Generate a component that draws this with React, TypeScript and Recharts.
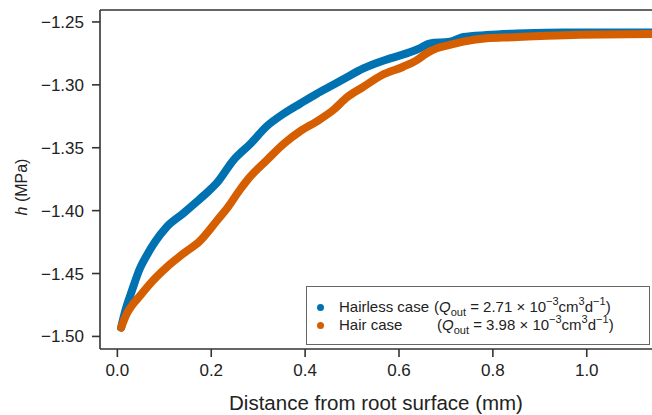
import React from 'react';
import { LineChart, Line, XAxis, YAxis, ReferenceLine } from 'recharts';

const hairlessX = [0.008, 0.017, 0.031, 0.048, 0.062, 0.080, 0.105, 0.141, 0.169, 0.190, 0.212, 0.247, 0.283, 0.318, 0.354, 0.389, 0.425, 0.460, 0.489, 0.524, 0.560, 0.581, 0.616, 0.644, 0.666, 0.708, 0.737, 0.787, 0.850, 0.915, 1.000, 1.139];
const hairlessH = [-1.493, -1.4795, -1.4636, -1.446, -1.436, -1.425, -1.413, -1.402, -1.393, -1.386, -1.378, -1.360, -1.347, -1.333, -1.323, -1.315, -1.307, -1.300, -1.294, -1.287, -1.2816, -1.279, -1.275, -1.271, -1.267, -1.2657, -1.262, -1.2604, -1.2592, -1.2585, -1.2584, -1.2584];

const hairX = [0.008, 0.020, 0.034, 0.050, 0.070, 0.105, 0.141, 0.176, 0.212, 0.236, 0.260, 0.283, 0.318, 0.354, 0.389, 0.425, 0.460, 0.489, 0.524, 0.564, 0.609, 0.638, 0.659, 0.680, 0.708, 0.737, 0.787, 0.843, 0.915, 0.985, 1.139];
const hairH = [-1.493, -1.482, -1.474, -1.467, -1.458, -1.445, -1.434, -1.424, -1.408, -1.397, -1.384, -1.373, -1.360, -1.347, -1.337, -1.329, -1.320, -1.310, -1.3016, -1.2922, -1.2856, -1.2803, -1.2749, -1.271, -1.2683, -1.2657, -1.263, -1.2622, -1.2609, -1.2601, -1.2596];

const xTicks = [0, 0.2, 0.4, 0.6, 0.8, 1.0];
const yTicks = [-1.5, -1.45, -1.4, -1.35, -1.3, -1.25];

const hairlessData = hairlessX.map((x, i) => ({ x, h: hairlessH[i] }));
const hairData = hairX.map((x, i) => ({ x, h: hairH[i] }));

const BLUE = '#0072B2';
const ORANGE = '#D55E00';
const FONT = '"Liberation Sans", Arial, Helvetica, sans-serif';

const YLabel = () => (
  <text
    transform="translate(21,187) rotate(-90)"
    textAnchor="middle"
    dominantBaseline="central"
    fontSize={16}
    fill="#222"
    fontFamily={FONT}
  >
    <tspan fontStyle="italic">h</tspan> (MPa)
  </text>
);

const sup: React.CSSProperties = { fontSize: 11, position: 'relative', top: -7, lineHeight: 0 };
const sub: React.CSSProperties = { fontSize: 11, position: 'relative', top: 4, lineHeight: 0 };

const Formula = ({ q }: { q: string }) => (
  <span>
    (<i>Q</i><span style={sub}>out</span> = {q} × 10<span style={sup}>−3</span>cm<span style={sup}>3</span>d<span style={sup}>−1</span>)
  </span>
);

const legendRows = [
  { name: 'Hairless case', q: '2.71', color: BLUE, fx: 127 },
  { name: 'Hair case', q: '3.98', color: ORANGE, fx: 130 },
];

export default function App() {
  return (
    <div style={{ position: 'absolute', left: 0, top: 0, width: 652, height: 415, fontFamily: FONT, background: '#fff' }}>
      <LineChart width={652} height={415} margin={{ top: 10, right: 0, bottom: 0, left: 0 }}>
        <XAxis
          type="number"
          dataKey="x"
          domain={[-0.037, 1.139]}
          allowDataOverflow
          ticks={xTicks}
          tickFormatter={(v: number) => v.toFixed(1)}
          height={66}
          tickSize={8}
          tickMargin={7}
          stroke="#333"
          strokeWidth={1.6}
          tick={{ fill: '#222', fontSize: 17, fontFamily: FONT }}
          label={{ value: 'Distance from root surface (mm)', position: 'insideBottom', offset: 5, fill: '#222', fontSize: 20.5, fontFamily: FONT }}
        />
        <YAxis
          type="number"
          domain={[-1.51, -1.2405]}
          allowDataOverflow
          ticks={yTicks}
          tickFormatter={(v: number) => (v < 0 ? '−' : '') + Math.abs(v).toFixed(2)}
          width={100}
          tickSize={8}
          tickMargin={8}
          stroke="#333"
          strokeWidth={1.6}
          tick={{ fill: '#222', fontSize: 17, fontFamily: FONT }}
          label={<YLabel />}
        />
        <ReferenceLine y={-1.2405} stroke="#333" strokeWidth={1.6} />
        <Line data={hairlessData} dataKey="h" type="monotone" stroke={BLUE} strokeWidth={8} strokeLinecap="round" dot={false} isAnimationActive={false} />
        <Line data={hairData} dataKey="h" type="monotone" stroke={ORANGE} strokeWidth={8} strokeLinecap="round" dot={false} isAnimationActive={false} />
      </LineChart>
      <div
        style={{
          position: 'absolute',
          left: 306,
          top: 286,
          width: 344,
          height: 59,
          border: '1px solid #666',
          boxSizing: 'border-box',
          background: '#fff',
          fontSize: 15,
          color: '#222',
        }}
      >
        {legendRows.map((r, i) => (
          <div key={r.name} style={{ position: 'absolute', left: 0, right: 0, top: 11 + i * 18.4, height: 18.4, lineHeight: '18.4px', whiteSpace: 'nowrap' }}>
            <span style={{ position: 'absolute', left: 9.5, top: 6, width: 7, height: 7, borderRadius: '50%', background: r.color }} />
            <span style={{ position: 'absolute', left: 32 }}>{r.name}</span>
            <span style={{ position: 'absolute', left: r.fx }}><Formula q={r.q} /></span>
          </div>
        ))}
      </div>
    </div>
  );
}
